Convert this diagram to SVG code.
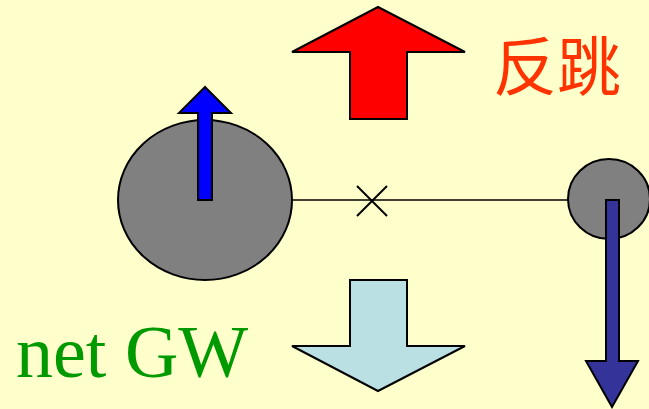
<svg xmlns="http://www.w3.org/2000/svg" width="649" height="409" viewBox="0 0 649 409">
<style>
.o{stroke:#000;stroke-width:2;stroke-linejoin:miter}
.ln{stroke:#000;stroke-width:1.5;fill:none}
</style>
<rect width="649" height="409" fill="#FFFFCC"/>
<g id="connectors">
<line class="ln" x1="292" y1="200" x2="570" y2="200"/>
<path class="ln" d="M357 186 L387 216 M387 186 L357 216" style="stroke-width:2"/>
</g>
<g id="mass-large">
<ellipse class="o" cx="205" cy="200" rx="87" ry="80" fill="#808080"/>
</g>
<g id="arrow-blue">
<polygon class="o" fill="#0000FF" points="205,87 231,113 212,113 212,200 198,200 198,113 179,113"/>
</g>
<g id="mass-small">
<ellipse class="o" cx="609" cy="199" rx="41" ry="40" fill="#808080"/>
</g>
<g id="arrow-navy">
<polygon class="o" fill="#333399" points="606,200 619,200 619,361 638,361 612,407 586,361 606,361"/>
</g>
<g id="arrow-red">
<polygon class="o" fill="#FF0000" points="378,7 465,52 407,52 407,119 350,119 350,52 292,52"/>
</g>
<g id="arrow-lightblue">
<polygon class="o" fill="#BBE0E3" points="350,280 407,280 407,346 465,346 378,391 292,346 350,346"/>
</g>
<g id="label-recoil">
<text x="493" y="90" font-family="'Noto Sans CJK SC','Noto Sans CJK JP',sans-serif" font-size="64" fill="#FF3300">反跳</text>
</g>
<g id="label-netgw">
<text x="16" y="377" font-family="'Liberation Serif',serif" font-size="74" fill="#009900">net GW</text>
</g>
</svg>
